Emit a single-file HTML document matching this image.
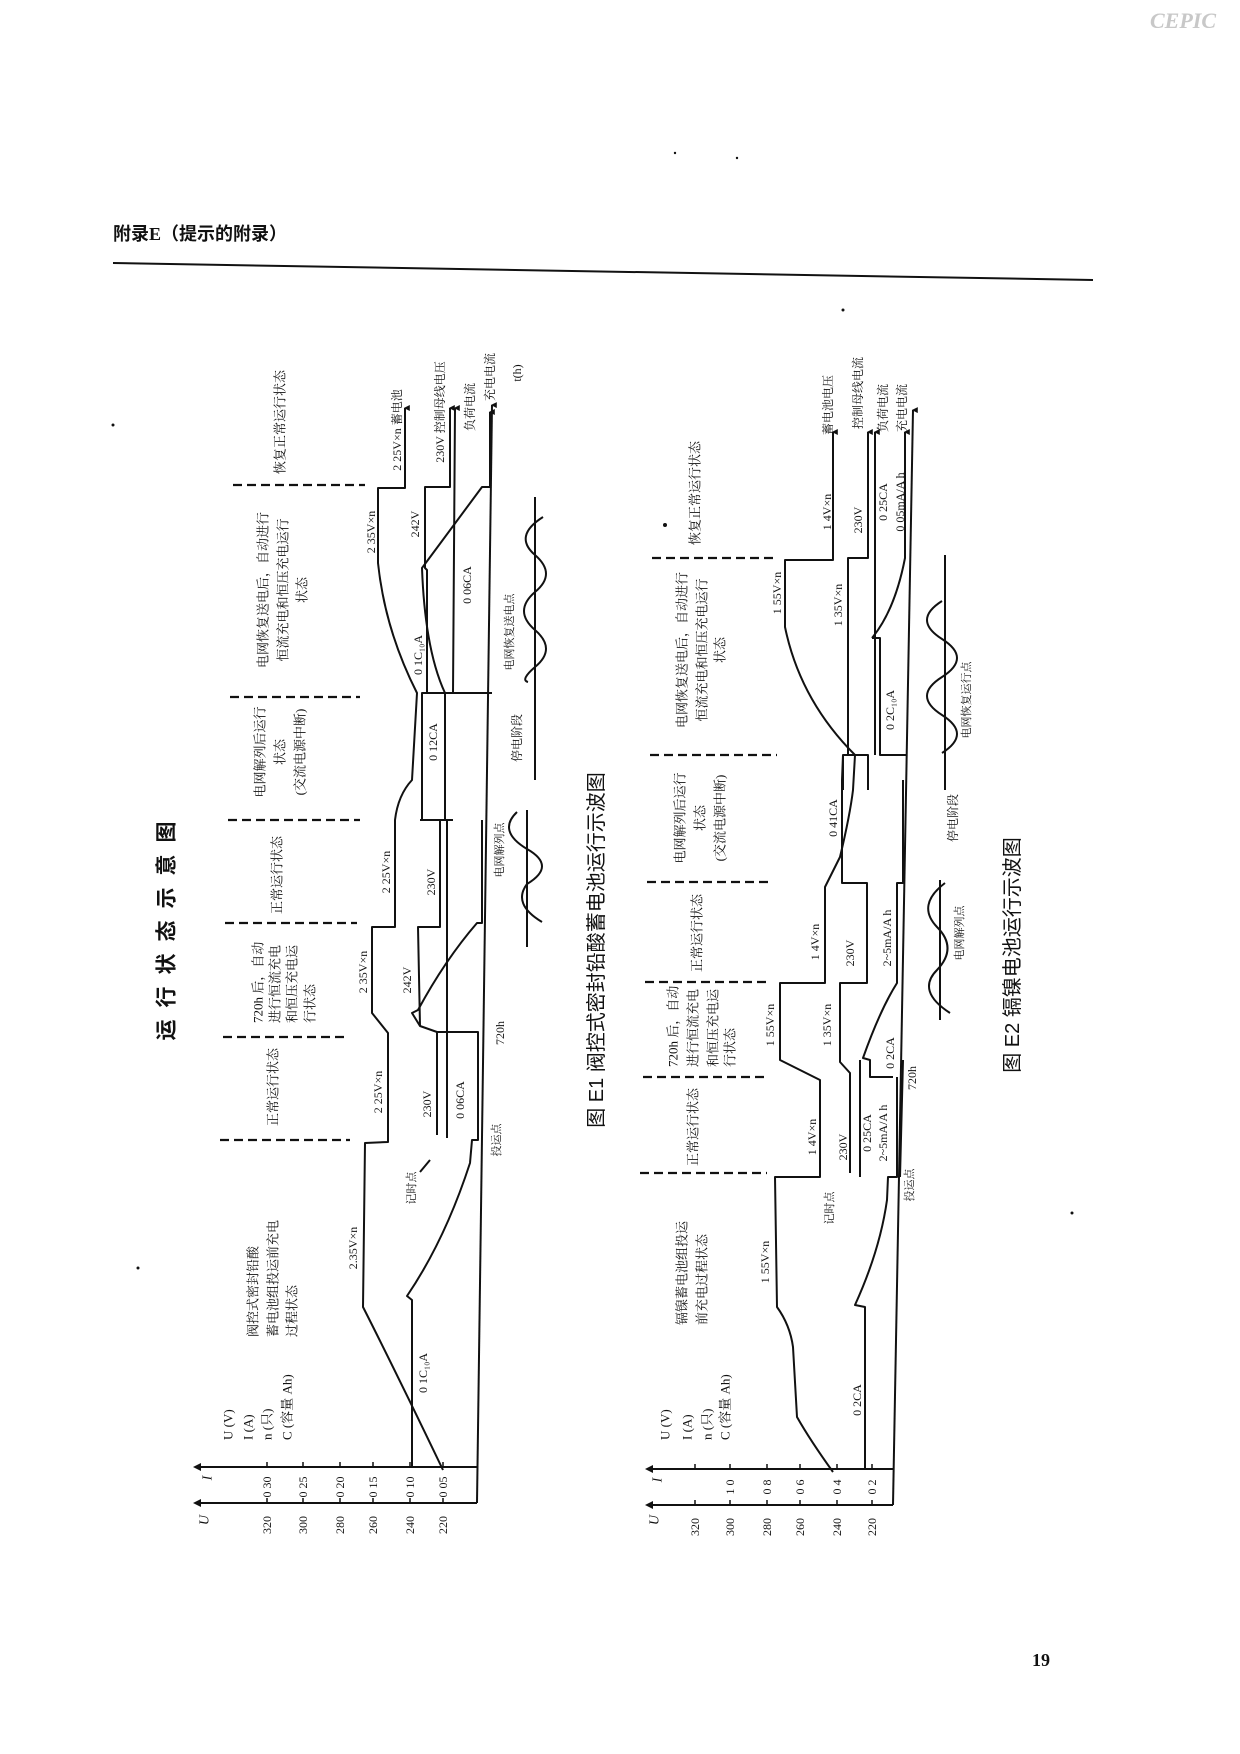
<!DOCTYPE html>
<html><head><meta charset="utf-8"><style>
html,body{margin:0;padding:0;background:#fff;}
svg{display:block;}
text{font-family:"Liberation Serif","Noto Serif CJK SC",serif;fill:#111;}
.l{fill:none;stroke:#111;stroke-width:2;stroke-linejoin:round;}
.d{fill:none;stroke:#111;stroke-width:2.2;stroke-dasharray:9 5;}
</style></head><body>
<svg width="1240" height="1754" viewBox="0 0 1240 1754" xmlns="http://www.w3.org/2000/svg">
<defs><marker id="a" viewBox="0 0 10 10" refX="5" refY="2" markerWidth="6" markerHeight="9" orient="auto-start-reverse" markerUnits="userSpaceOnUse"><path d="M0,10 L5,0 L10,10 Z" fill="#111"/></marker></defs>

<text x="1150" y="28" font-family="Liberation Sans,sans-serif" font-style="italic" font-weight="bold" font-size="22" fill="#c8c8c8" style="fill:#c8c8c8">CEPIC</text>
<text x="113" y="240" font-size="18" font-weight="bold" style="font-family:'Liberation Serif','Noto Sans CJK SC',sans-serif">附录E（提示的附录）</text>
<path d="M113,263 L1093,280" stroke="#111" stroke-width="2"/>
<text x="1032" y="1666" font-size="18" font-weight="bold">19</text>

<!-- ============ DIAGRAM 1 ============ -->
<g>
<path class="l" d="M477,1503 L196,1503"/><path d="M193,1503 l8,-4 v8z" fill="#111"/>
<path class="l" d="M477,1467 L196,1467"/><path d="M193,1467 l8,-4 v8z" fill="#111"/>
<path class="l" d="M477,1503 L492,405" marker-end="url(#a)"/>
<g stroke="#111" stroke-width="1.5">
<path d="M267,1503v-5M303,1503v-5M340,1503v-5M373,1503v-5M410,1503v-5M443,1503v-5"/>
<path d="M267,1467v-5M303,1467v-5M340,1467v-5M373,1467v-5M410,1467v-5M443,1467v-5"/>
</g>
<g font-size="12" text-anchor="middle" dominant-baseline="central">
<text transform="translate(205,1520) rotate(-90)" font-style="italic" font-size="14">U</text>
<text transform="translate(208,1478) rotate(-90)" font-style="italic" font-size="14">I</text>
<text transform="translate(267,1525) rotate(-90)">320</text><text transform="translate(303,1525) rotate(-90)">300</text>
<text transform="translate(340,1525) rotate(-90)">280</text><text transform="translate(373,1525) rotate(-90)">260</text>
<text transform="translate(410,1525) rotate(-90)">240</text><text transform="translate(443,1525) rotate(-90)">220</text>
<text transform="translate(267,1487) rotate(-90)">0 30</text><text transform="translate(303,1487) rotate(-90)">0 25</text>
<text transform="translate(340,1487) rotate(-90)">0 20</text><text transform="translate(373,1487) rotate(-90)">0 15</text>
<text transform="translate(410,1487) rotate(-90)">0 10</text><text transform="translate(443,1487) rotate(-90)">0 05</text>
</g>
<path class="d" d="M233,485 H365 M230,697 H360 M228,820 H360 M225,923 H357 M223,1037 H345 M220,1140 H350"/>
<path class="l" d="M443,1470 Q395,1370 363,1307 L365,1143 L388,1142 L388,1033 L372,1013 L372,927 L395,927 L395,820 Q398,795 412,780 L417,693 Q385,630 378,563 L378,488 L405,488 L405,408" marker-end="url(#a)"/>
<path class="l" d="M412,1467 L412,1300 L407,1296 Q445,1240 470,1163 L472,1140 L478,1140 L478,1032 L437,1032 L420,1026 L412,1013 L418,1010 Q445,960 477,923 L482,923 L482,820"/>
<path class="l" d="M420,820 L453,820 M422,820 L422,693 L492,693 M445,820 L445,693"/>
<path class="l" d="M445,693 Q425,650 422,568 L482,487 L490,487 L490,412" marker-end="url(#a)"/>
<path class="l" d="M437,1135 L437,1032 M420,1026 L418,927 L440,927 L440,820 M427,693 L427,570 L425,568 L425,487 L450,487 L450,408" marker-end="url(#a)"/>
<path class="l" d="M447,1138 L447,820 M453,693 L455,408" marker-end="url(#a)"/>
<path class="l" d="M420,1172 L430,1160" stroke-width="1.5"/>
<path class="l" d="M527,810 L527,947 M535,497 L535,780"/>
<path class="l" stroke-width="1.8" d="M542,922 Q512,904 527,884 Q557,866 527,849 Q497,831 517,812"/>
<path class="l" stroke-width="1.8" d="M543,517 Q513,536 535,555 Q557,574 535,592 Q513,611 535,630 Q557,649 535,667 Q520,680 528,682"/>
<g font-size="13" text-anchor="middle" dominant-baseline="central">
<text transform="translate(280,422) rotate(-90)">恢复正常运行状态</text>
<text transform="translate(263,590) rotate(-90)">电网恢复送电后，自动进行</text>
<text transform="translate(283,590) rotate(-90)">恒流充电和恒压充电运行</text>
<text transform="translate(302,590) rotate(-90)">状态</text>
<text transform="translate(260,752) rotate(-90)">电网解列后运行</text>
<text transform="translate(280,752) rotate(-90)">状态</text>
<text transform="translate(300,752) rotate(-90)">(交流电源中断)</text>
<text transform="translate(277,875) rotate(-90)">正常运行状态</text>
<text transform="translate(273,1087) rotate(-90)">正常运行状态</text>
<text transform="translate(167,925) rotate(-90)" font-size="21" font-weight="bold" letter-spacing="12" style="font-family:'Liberation Sans','Noto Sans CJK SC',sans-serif">运行状态示意图</text>
<text transform="translate(597,950) rotate(-90)" font-size="20" style="font-family:'Liberation Sans','Noto Sans CJK SC',sans-serif">图 E1   阀控式密封铅酸蓄电池运行示波图</text>
</g>
<g font-size="13" text-anchor="start" dominant-baseline="central">
<text transform="translate(258,1023) rotate(-90)">720h 后，自动</text>
<text transform="translate(275,1023) rotate(-90)">进行恒流充电</text>
<text transform="translate(292,1023) rotate(-90)">和恒压充电运</text>
<text transform="translate(310,1023) rotate(-90)">行状态</text>
<text transform="translate(253,1337) rotate(-90)">阀控式密封铅酸</text>
<text transform="translate(273,1337) rotate(-90)">蓄电池组投运前充电</text>
<text transform="translate(292,1337) rotate(-90)">过程状态</text>
<text transform="translate(228,1440) rotate(-90)">U (V)</text>
<text transform="translate(248,1440) rotate(-90)">I (A)</text>
<text transform="translate(267,1440) rotate(-90)">n (只)</text>
<text transform="translate(287,1440) rotate(-90)">C (容量 Ah)</text>
</g>
<g font-size="12" text-anchor="middle" dominant-baseline="central">
<text transform="translate(397,430) rotate(-90)">2 25V×n 蓄电池</text>
<text transform="translate(440,412) rotate(-90)">230V  控制母线电压</text>
<text transform="translate(470,407) rotate(-90)">负荷电流</text>
<text transform="translate(490,377) rotate(-90)">充电电流</text>
<text transform="translate(517,373) rotate(-90)">t(h)</text>
<text transform="translate(371,532) rotate(-90)">2 35V×n</text>
<text transform="translate(415,524) rotate(-90)">242V</text>
<text transform="translate(467,585) rotate(-90)">0 06CA</text>
<text transform="translate(418,655) rotate(-90)">0 1C₁₀A</text>
<text transform="translate(433,742) rotate(-90)">0 12CA</text>
<text transform="translate(510,632) rotate(-90)" font-size="11">电网恢复送电点</text>
<text transform="translate(517,738) rotate(-90)">停电阶段</text>
<text transform="translate(500,850) rotate(-90)" font-size="11">电网解列点</text>
<text transform="translate(386,872) rotate(-90)">2 25V×n</text>
<text transform="translate(431,882) rotate(-90)">230V</text>
<text transform="translate(363,972) rotate(-90)">2 35V×n</text>
<text transform="translate(407,980) rotate(-90)">242V</text>
<text transform="translate(378,1092) rotate(-90)">2 25V×n</text>
<text transform="translate(427,1104) rotate(-90)">230V</text>
<text transform="translate(460,1100) rotate(-90)">0 06CA</text>
<text transform="translate(500,1033) rotate(-90)">720h</text>
<text transform="translate(497,1140) rotate(-90)" font-size="11">投运点</text>
<text transform="translate(412,1188) rotate(-90)" font-size="11">记时点</text>
<text transform="translate(353,1248) rotate(-90)">2.35V×n</text>
<text transform="translate(423,1373) rotate(-90)">0 1C₁₀A</text>
</g>
</g>

<!-- ============ DIAGRAM 2 ============ -->
<g>
<path class="l" d="M893,1505 L648,1505"/><path d="M645,1505 l8,-4 v8z" fill="#111"/>
<path class="l" d="M893,1469 L648,1469"/><path d="M645,1469 l8,-4 v8z" fill="#111"/>
<path class="l" d="M893,1505 L913,410" marker-end="url(#a)"/>
<g stroke="#111" stroke-width="1.5">
<path d="M695,1505v-5M730,1505v-5M767,1505v-5M800,1505v-5M837,1505v-5M872,1505v-5"/>
<path d="M695,1469v-5M730,1469v-5M767,1469v-5M800,1469v-5M837,1469v-5M872,1469v-5"/>
</g>
<g font-size="12" text-anchor="middle" dominant-baseline="central">
<text transform="translate(655,1520) rotate(-90)" font-style="italic" font-size="14">U</text>
<text transform="translate(658,1480) rotate(-90)" font-style="italic" font-size="14">I</text>
<text transform="translate(695,1527) rotate(-90)">320</text><text transform="translate(730,1527) rotate(-90)">300</text>
<text transform="translate(767,1527) rotate(-90)">280</text><text transform="translate(800,1527) rotate(-90)">260</text>
<text transform="translate(837,1527) rotate(-90)">240</text><text transform="translate(872,1527) rotate(-90)">220</text>
<text transform="translate(730,1487) rotate(-90)">1 0</text><text transform="translate(767,1487) rotate(-90)">0 8</text>
<text transform="translate(800,1487) rotate(-90)">0 6</text><text transform="translate(837,1487) rotate(-90)">0 4</text>
<text transform="translate(872,1487) rotate(-90)">0 2</text>
</g>
<path class="d" d="M652,558 H777 M650,755 H777 M647,882 H773 M645,982 H770 M643,1077 H767 M640,1173 H767"/>
<path class="l" d="M833,1472 Q810,1440 797,1417 L793,1347 Q790,1325 777,1307 L775,1177 L820,1177 L820,1080 L780,1060 L780,983 L825,983 L825,887 L840,857 Q850,815 853,790 L855,755 Q800,700 785,627 L785,560 L833,560 L833,432" marker-end="url(#a)"/>
<path class="l" d="M850,1173 L850,1073 L840,1062 L840,983 L867,983 L867,883 L842,883 L842,780 L843,755 M843,790 L843,755 L868,755 L868,790 M848,755 Q848,650 848,558 L868,558 L868,432" marker-end="url(#a)"/>
<path class="l" d="M865,1469 L865,1307 L855,1305 Q880,1250 887,1200 L888,1177 L897,1177 L897,1077 M893,1077 L870,1077 L870,1060 L863,1058 Q880,1010 897,983 L897,883 L903,883 L903,780"/>
<path class="l" d="M872,638 L880,638 L880,755 L907,755 M872,638 Q895,610 905,558 L905,432" marker-end="url(#a)"/>
<path class="l" d="M860,1060 L860,1177 M900,1177 L903,1060 M875,755 L875,432" marker-end="url(#a)"/>
<path class="l" d="M945,555 L945,790 M940,880 L940,1020"/>
<path class="l" stroke-width="1.8" d="M942,753 Q972,734 942,715 Q912,696 942,677 Q972,658 942,639 Q912,620 942,601"/>
<path class="l" stroke-width="1.8" d="M950,1013 Q916,991 937,970 Q958,948 937,927 Q916,905 945,883"/>
<g font-size="13" text-anchor="middle" dominant-baseline="central">
<text transform="translate(695,493) rotate(-90)">恢复正常运行状态</text>
<text transform="translate(682,650) rotate(-90)">电网恢复送电后，自动进行</text>
<text transform="translate(702,650) rotate(-90)">恒流充电和恒压充电运行</text>
<text transform="translate(720,650) rotate(-90)">状态</text>
<text transform="translate(680,818) rotate(-90)">电网解列后运行</text>
<text transform="translate(700,818) rotate(-90)">状态</text>
<text transform="translate(720,818) rotate(-90)">(交流电源中断)</text>
<text transform="translate(697,933) rotate(-90)">正常运行状态</text>
<text transform="translate(693,1127) rotate(-90)">正常运行状态</text>
<text transform="translate(1013,955) rotate(-90)" font-size="20" style="font-family:'Liberation Sans','Noto Sans CJK SC',sans-serif">图 E2   镉镍电池运行示波图</text>
</g>
<g font-size="13" text-anchor="start" dominant-baseline="central">
<text transform="translate(673,1067) rotate(-90)">720h 后，自动</text>
<text transform="translate(693,1067) rotate(-90)">进行恒流充电</text>
<text transform="translate(713,1067) rotate(-90)">和恒压充电运</text>
<text transform="translate(730,1067) rotate(-90)">行状态</text>
<text transform="translate(682,1325) rotate(-90)">镉镍蓄电池组投运</text>
<text transform="translate(702,1325) rotate(-90)">前充电过程状态</text>
<text transform="translate(665,1440) rotate(-90)">U (V)</text>
<text transform="translate(687,1440) rotate(-90)">I (A)</text>
<text transform="translate(707,1440) rotate(-90)">n (只)</text>
<text transform="translate(725,1440) rotate(-90)">C (容量 Ah)</text>
</g>
<g font-size="12" text-anchor="middle" dominant-baseline="central">
<text transform="translate(828,405) rotate(-90)">蓄电池电压</text>
<text transform="translate(827,512) rotate(-90)">1 4V×n</text>
<text transform="translate(858,393) rotate(-90)">控制母线电流</text>
<text transform="translate(858,520) rotate(-90)">230V</text>
<text transform="translate(883,408) rotate(-90)">负荷电流</text>
<text transform="translate(902,408) rotate(-90)">充电电流</text>
<text transform="translate(883,502) rotate(-90)">0 25CA</text>
<text transform="translate(900,502) rotate(-90)">0 05mA/A h</text>
<text transform="translate(777,593) rotate(-90)">1 55V×n</text>
<text transform="translate(838,605) rotate(-90)">1 35V×n</text>
<text transform="translate(890,710) rotate(-90)">0 2C₁₀A</text>
<text transform="translate(967,700) rotate(-90)" font-size="11">电网恢复运行点</text>
<text transform="translate(833,818) rotate(-90)">0 41CA</text>
<text transform="translate(953,818) rotate(-90)">停电阶段</text>
<text transform="translate(960,933) rotate(-90)" font-size="11">电网解列点</text>
<text transform="translate(815,942) rotate(-90)">1 4V×n</text>
<text transform="translate(850,953) rotate(-90)">230V</text>
<text transform="translate(887,938) rotate(-90)">2~5mA/A h</text>
<text transform="translate(770,1025) rotate(-90)">1 55V×n</text>
<text transform="translate(827,1025) rotate(-90)">1 35V×n</text>
<text transform="translate(890,1053) rotate(-90)">0 2CA</text>
<text transform="translate(912,1078) rotate(-90)">720h</text>
<text transform="translate(812,1137) rotate(-90)">1 4V×n</text>
<text transform="translate(843,1147) rotate(-90)">230V</text>
<text transform="translate(867,1133) rotate(-90)">0 25CA</text>
<text transform="translate(883,1133) rotate(-90)">2~5mA/A h</text>
<text transform="translate(910,1185) rotate(-90)" font-size="11">投运点</text>
<text transform="translate(830,1208) rotate(-90)" font-size="11">记时点</text>
<text transform="translate(765,1262) rotate(-90)">1 55V×n</text>
<text transform="translate(857,1400) rotate(-90)">0 2CA</text>
</g>
</g>
<g fill="#111"><circle cx="113" cy="425" r="1.5"/><circle cx="138" cy="1268" r="1.5"/><circle cx="737" cy="158" r="1.2"/><circle cx="675" cy="153" r="1.2"/><circle cx="843" cy="310" r="1.5"/><circle cx="1072" cy="1213" r="1.5"/><circle cx="665" cy="525" r="2"/></g>
</svg>
</body></html>
